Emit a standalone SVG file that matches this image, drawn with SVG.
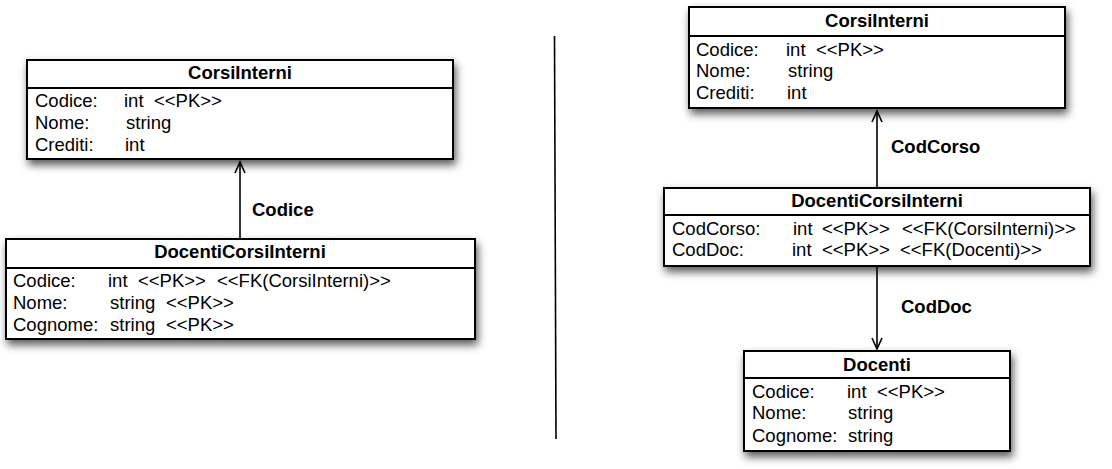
<svg xmlns="http://www.w3.org/2000/svg" width="1112" height="469" viewBox="0 0 1112 469">
<style>
.box{fill:#fff;stroke:#000;stroke-width:2}
.sep{stroke:#000;stroke-width:2}
.t{font-family:"Liberation Sans",Arial,sans-serif;font-size:18.5px;font-weight:bold;text-anchor:middle;fill:#000}
.a{font-family:"Liberation Sans",Arial,sans-serif;font-size:18.5px;fill:#000}
.l{font-family:"Liberation Sans",Arial,sans-serif;font-size:18.5px;font-weight:bold;fill:#000}
.c{stroke:#000;stroke-width:1.6;fill:none}
</style>
<defs>
<filter id="sh" x="-10%" y="-20%" width="125%" height="150%">
<feDropShadow dx="2" dy="5" stdDeviation="4" flood-color="#000" flood-opacity="0.65"/>
</filter>
<marker id="arr" markerWidth="14" markerHeight="14" refX="12" refY="7" orient="auto" markerUnits="userSpaceOnUse">
<path d="M1,2 L12,7 L1,12" fill="none" stroke="#000" stroke-width="1.6"/>
</marker>
</defs>
<rect width="1112" height="469" fill="#fff"/>

<g id="connectors">
<line class="c" x1="240" y1="238" x2="240" y2="162" marker-end="url(#arr)"/>
<text class="l" x="252" y="216">Codice</text>
<line class="c" x1="877" y1="188" x2="877" y2="111" marker-end="url(#arr)"/>
<text class="l" x="891" y="153">CodCorso</text>
<line class="c" x1="877" y1="266" x2="877" y2="349" marker-end="url(#arr)"/>
<text class="l" x="901" y="313">CodDoc</text>
</g>

<line id="divider" x1="554.5" y1="36" x2="556" y2="439" stroke="#000" stroke-width="1.6"/>

<g id="left-corsiinterni">
<rect class="box" x="27" y="60" width="426" height="99" filter="url(#sh)"/>
<line class="sep" x1="27" y1="88" x2="453" y2="88"/>
<text class="t" x="240" y="79">CorsiInterni</text>
<text class="a" x="35" y="107">Codice:</text><text class="a" x="124" y="107">int</text><text class="a" x="154" y="107">&lt;&lt;PK&gt;&gt;</text>
<text class="a" x="35" y="129">Nome:</text><text class="a" x="126" y="129">string</text>
<text class="a" x="35" y="151">Crediti:</text><text class="a" x="125" y="151">int</text>
</g>

<g id="left-docenticorsiinterni">
<rect class="box" x="6" y="239" width="469" height="100" filter="url(#sh)"/>
<line class="sep" x1="6" y1="268" x2="475" y2="268"/>
<text class="t" x="240" y="258">DocentiCorsiInterni</text>
<text class="a" x="13" y="287">Codice:</text><text class="a" x="108" y="287">int</text><text class="a" x="138" y="287">&lt;&lt;PK&gt;&gt;</text><text class="a" x="217" y="287">&lt;&lt;FK(CorsiInterni)&gt;&gt;</text>
<text class="a" x="13" y="309">Nome:</text><text class="a" x="110" y="309">string</text><text class="a" x="166" y="309">&lt;&lt;PK&gt;&gt;</text>
<text class="a" x="13" y="331">Cognome:</text><text class="a" x="110" y="331">string</text><text class="a" x="166" y="331">&lt;&lt;PK&gt;&gt;</text>
</g>

<g id="right-corsiinterni">
<rect class="box" x="689" y="7" width="376" height="101" filter="url(#sh)"/>
<line class="sep" x1="689" y1="36" x2="1065" y2="36"/>
<text class="t" x="877" y="27">CorsiInterni</text>
<text class="a" x="696" y="56">Codice:</text><text class="a" x="786" y="56">int</text><text class="a" x="816" y="56">&lt;&lt;PK&gt;&gt;</text>
<text class="a" x="696" y="77">Nome:</text><text class="a" x="788" y="77">string</text>
<text class="a" x="696" y="99">Crediti:</text><text class="a" x="787" y="99">int</text>
</g>

<g id="right-docenticorsiinterni">
<rect class="box" x="664" y="188" width="426" height="78" filter="url(#sh)"/>
<line class="sep" x1="664" y1="215" x2="1090" y2="215"/>
<text class="t" x="877" y="207">DocentiCorsiInterni</text>
<text class="a" x="672" y="235">CodCorso:</text><text class="a" x="793" y="235">int</text><text class="a" x="822" y="235">&lt;&lt;PK&gt;&gt;</text><text class="a" x="902" y="235">&lt;&lt;FK(CorsiInterni)&gt;&gt;</text>
<text class="a" x="672" y="256">CodDoc:</text><text class="a" x="792" y="256">int</text><text class="a" x="822" y="256">&lt;&lt;PK&gt;&gt;</text><text class="a" x="900" y="256">&lt;&lt;FK(Docenti)&gt;&gt;</text>
</g>

<g id="docenti">
<rect class="box" x="744" y="351" width="266" height="100" filter="url(#sh)"/>
<line class="sep" x1="744" y1="378" x2="1010" y2="378"/>
<text class="t" x="877" y="371">Docenti</text>
<text class="a" x="752" y="398">Codice:</text><text class="a" x="847" y="398">int</text><text class="a" x="877" y="398">&lt;&lt;PK&gt;&gt;</text>
<text class="a" x="752" y="419">Nome:</text><text class="a" x="848" y="419">string</text>
<text class="a" x="752" y="442">Cognome:</text><text class="a" x="848" y="442">string</text>
</g>
</svg>
